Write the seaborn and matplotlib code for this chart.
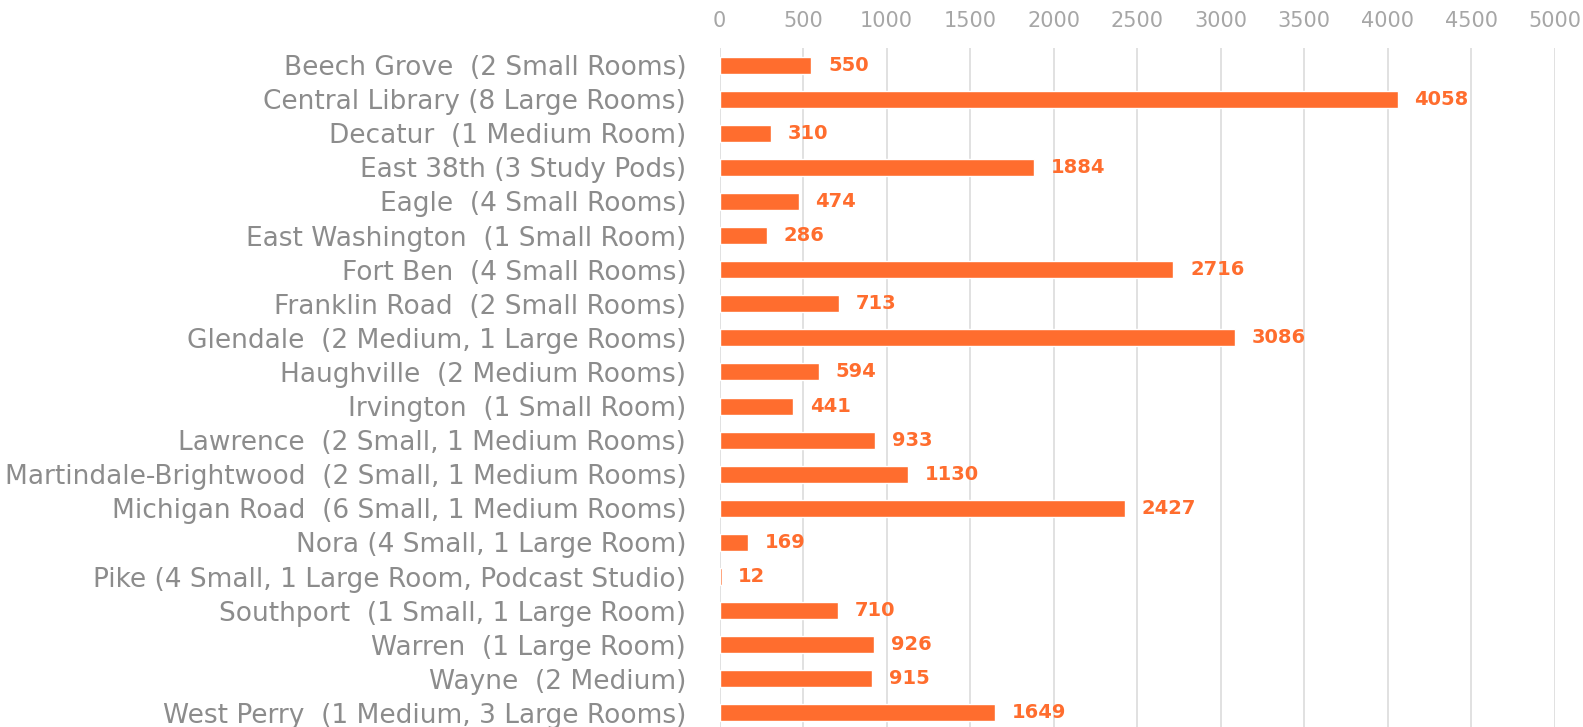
import matplotlib
matplotlib.use("Agg")
import matplotlib.pyplot as plt
import seaborn as sns
import pandas as pd

branches = [
    "Beech Grove  (2 Small Rooms)",
    "Central Library (8 Large Rooms)",
    "Decatur  (1 Medium Room)",
    "East 38th (3 Study Pods)",
    "Eagle  (4 Small Rooms)",
    "East Washington  (1 Small Room)",
    "Fort Ben  (4 Small Rooms)",
    "Franklin Road  (2 Small Rooms)",
    "Glendale  (2 Medium, 1 Large Rooms)",
    "Haughville  (2 Medium Rooms)",
    "Irvington  (1 Small Room)",
    "Lawrence  (2 Small, 1 Medium Rooms)",
    "Martindale-Brightwood  (2 Small, 1 Medium Rooms)",
    "Michigan Road  (6 Small, 1 Medium Rooms)",
    "Nora (4 Small, 1 Large Room)",
    "Pike (4 Small, 1 Large Room, Podcast Studio)",
    "Southport  (1 Small, 1 Large Room)",
    "Warren  (1 Large Room)",
    "Wayne  (2 Medium)",
    "West Perry  (1 Medium, 3 Large Rooms)",
]
bookings = [550, 4058, 310, 1884, 474, 286, 2716, 713, 3086, 594,
            441, 933, 1130, 2427, 169, 12, 710, 926, 915, 1649]
xticks = [0, 500, 1000, 1500, 2000, 2500, 3000, 3500, 4000, 4500, 5000]

df = pd.DataFrame({"branch": branches, "bookings": bookings})

sns.set_theme(style="white")
plt.rcParams["font.family"] = ["DejaVu Sans"]

W, H = 1583, 727
fig = plt.figure(figsize=(W / 100, H / 100), dpi=100)
ax = fig.add_axes([719.5 / W, 1 - 730 / H, (1555 - 719.5) / W, (730 - 48) / H])

orange = "#FF6D2E"
sns.barplot(data=df, y="branch", x="bookings", orient="h", color=orange,
            width=0.5, saturation=1, ax=ax, zorder=3)

ax.set_xlim(0, 5000)
ax.set_ylim(len(branches) - 0.5, -0.5)
ax.set_xticks(xticks, labels=[str(v) for v in xticks])
ax.xaxis.set_tick_params(labeltop=True, labelbottom=False, top=False, bottom=False)
ax.set_xlabel("")
ax.set_ylabel("")
ax.grid(axis="x", color="#DEDEDE", linewidth=1.3, zorder=0)
ax.grid(axis="y", visible=False)
for s in ax.spines.values():
    s.set_visible(False)

ax.tick_params(axis="x", length=0, pad=12, labelcolor="#A6A6A6")
ax.tick_params(axis="y", length=0, pad=24, labelsize=18, labelcolor="#8C8C8C")

# fit the longest category label to the reference's width (~682 px)
fig.canvas.draw()
r = fig.canvas.get_renderer()
wmax = max(t.get_window_extent(r).width for t in ax.get_yticklabels())
ax.tick_params(axis="y", labelsize=18 * 682 / wmax)

ax.bar_label(ax.containers[0], labels=[str(v) for v in bookings], padding=12,
             color=orange, fontsize=14, fontweight="bold")

fig.canvas.draw()
for t in ax.xaxis.get_major_ticks():
    t.label1.set_fontsize(15)
    t.label2.set_fontsize(15)

fig.savefig("out.png", dpi=100)
